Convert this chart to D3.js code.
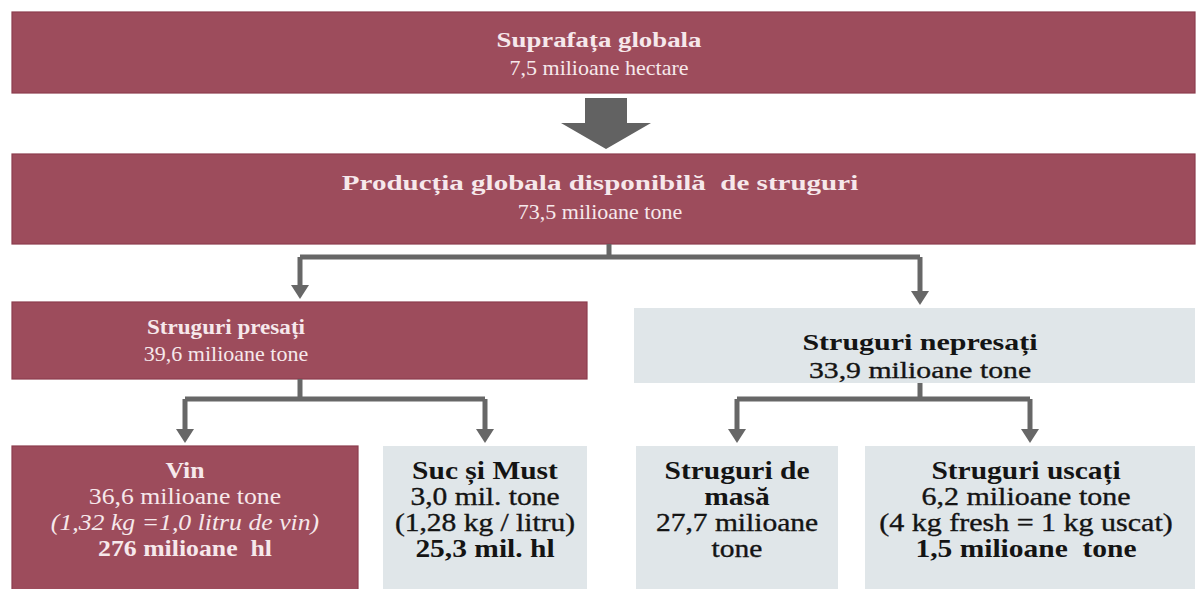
<!DOCTYPE html>
<html><head><meta charset="utf-8">
<script src="https://cdn.jsdelivr.net/npm/d3@7"></script>
<style>html,body{margin:0;padding:0;background:#fff;}svg{display:block;}</style>
</head><body>
<svg id="chart" width="1197" height="589"></svg>
<script>
// ---- data ----
const nodeTitles = ["Suprafața globala", "Producția globala disponibilă  de struguri", "Struguri presați", "Struguri nepresați", "Vin", "Suc și Must", "Struguri de masă", "Struguri uscați"];
const nodeAmounts = [7.5, 73.5, 39.6, 33.9, 36.6, 3.0, 27.7, 6.2];
const nodeUnits = ["milioane hectare", "milioane tone", "milioane tone", "milioane tone", "milioane tone", "mil. tone", "milioane tone", "milioane tone"];
const nodeConversions = [null, null, null, null, "(1,32 kg =1,0 litru de vin)", "(1,28 kg / litru)", null, "(4 kg fresh = 1 kg uscat)"];
const nodeDerived = [null, null, null, null, "276 milioane  hl", "25,3 mil. hl", null, "1,5 milioane  tone"];
const nodeParents = [null, 0, 1, 1, 2, 2, 3, 3];
const nodeHighlighted = [true, true, true, false, true, false, false, false];

// ---- layout ----
const svg = d3.select("#chart");
const RED = "#9d4c5c", LIGHT = "#e0e6e9", GREY = "#676767";
const fmt = v => d3.format(".1f")(v).replace(".", ",");
const layout = [
  {x0: 12, x1: 1195, y0: 12, y1: 93, tx: 599, base: 47, step: 28, fs: 22, sxB: 1.22, sxR: 1.0},
  {x0: 12, x1: 1195, y0: 154, y1: 244, tx: 600, base: 190, step: 29, fs: 22, sxB: 1.32, sxR: 1.0},
  {x0: 12, x1: 587, y0: 302, y1: 379, tx: 226, base: 334, step: 27, fs: 22, sxB: 1.05, sxR: 1.0},
  {x0: 634, x1: 1195, y0: 308, y1: 383, tx: 920, base: 350, step: 28, fs: 24, sxB: 1.25, sxR: 1.24},
  {x0: 12, x1: 358, y0: 446, y1: 600, tx: 185, base: 478, step: 26, fs: 23, sxB: 1.12, sxR: 1.12},
  {x0: 383, x1: 587, y0: 446, y1: 600, tx: 485, base: 479, step: 26, fs: 25, sxB: 1.18, sxR: 1.18},
  {x0: 636, x1: 838, y0: 446, y1: 600, tx: 737, base: 479, step: 26, fs: 25, sxB: 1.18, sxR: 1.18},
  {x0: 865, x1: 1195, y0: 446, y1: 600, tx: 1026, base: 479, step: 26, fs: 25, sxB: 1.18, sxR: 1.2}
];

const nodes = nodeTitles.map((t, i) => ({
  i, title: t, amount: fmt(nodeAmounts[i]) + " " + nodeUnits[i],
  conv: nodeConversions[i], derived: nodeDerived[i], parent: nodeParents[i],
  red: nodeHighlighted[i], ...layout[i]
}));

// boxes
svg.selectAll("rect.box").data(nodes).join("rect")
  .attr("class", "box")
  .attr("x", d => d.x0).attr("y", d => d.y0)
  .attr("width", d => d.x1 - d.x0).attr("height", d => d.y1 - d.y0)
  .attr("fill", d => d.red ? RED : LIGHT)
  .attr("stroke", d => d.red ? "#8c3d4d" : "none").attr("stroke-width", 1.2);

// big block arrow between level 0 and 1
{
  const a = nodes[0], b = nodes[1];
  const cx = 606, top = a.y1 + 5, tip = b.y0 - 5, neck = top + 25;
  const pts = [[cx - 21, top], [cx + 21, top], [cx + 21, neck], [cx + 45, neck], [cx, tip], [cx - 45, neck], [cx - 21, neck]];
  svg.append("path").attr("d", d3.line()(pts) + "Z").attr("fill", "#626262");
}

// elbow connectors parent -> children
const groups = d3.groups(nodes.filter(d => d.parent !== null && d.parent > 0), d => d.parent);
const parentX = {1: 609, 2: 300, 3: 920};
groups.forEach(([p, kids]) => {
  const par = nodes[p];
  const px = parentX[p];
  const midY = p === 1 ? par.y1 + 13 : 399;
  const xs = kids.map(k => p === 1 ? (k.i === 2 ? 300 : 920) : (k.x0 + k.x1) / 2);
  const g = svg.append("g").attr("stroke", GREY).attr("stroke-width", 5).attr("fill", "none");
  g.append("path").attr("d", `M${px},${par.y1}V${midY}`);
  g.append("path").attr("d", `M${d3.min(xs)},${midY}H${d3.max(xs)}`);
  kids.forEach((k, j) => {
    const x = xs[j], tipY = k.y0 - 3;
    g.append("path").attr("d", `M${x},${midY}V${tipY - 12}`);
    svg.append("path").attr("d", d3.line()([[x - 9, tipY - 14], [x + 9, tipY - 14], [x, tipY]]) + "Z").attr("fill", GREY);
  });
});

// texts
nodes.forEach(d => {
  const light = d.red;
  const col = light ? "#f6e8eb" : "#141414";
  const lines = [];
  lines.push({t: d.title, w: "bold", s: "normal"});
  lines.push({t: d.amount, w: "normal", s: "normal"});
  if (d.conv) lines.push({t: d.conv, w: "normal", s: light ? "italic" : "normal"});
  if (d.derived) lines.push({t: d.derived, w: "bold", s: "normal"});
  const maxW = d.x1 - d.x0 - 16;
  const g = svg.append("g").attr("font-family", "'Liberation Serif', 'Times New Roman', serif")
    .attr("font-size", d.fs).attr("fill", col).attr("text-anchor", "middle");
  const out = [];
  lines.forEach(l => {
    const sx = l.w === "bold" ? d.sxB : d.sxR;
    const probe = g.append("text").attr("font-weight", l.w).attr("font-style", l.s).text(l.t);
    const w = probe.node().getComputedTextLength() * sx;
    probe.remove();
    if (w > maxW && l.t.lastIndexOf(" ") > 0) {
      const k = l.t.lastIndexOf(" ");
      out.push({...l, t: l.t.slice(0, k), sx});
      out.push({...l, t: l.t.slice(k + 1), sx});
    } else out.push({...l, sx});
  });
  out.forEach((l, j) => {
    g.append("text")
      .attr("transform", `translate(${d.tx},${d.base + j * d.step}) scale(${l.sx},1)`)
      .attr("font-weight", l.w).attr("font-style", l.s)
      .attr("stroke", !light && l.w === "normal" ? col : "none")
      .attr("stroke-width", 0.35)
      .style("white-space", "pre")
      .text(l.t);
  });
});
</script>
</body></html>
